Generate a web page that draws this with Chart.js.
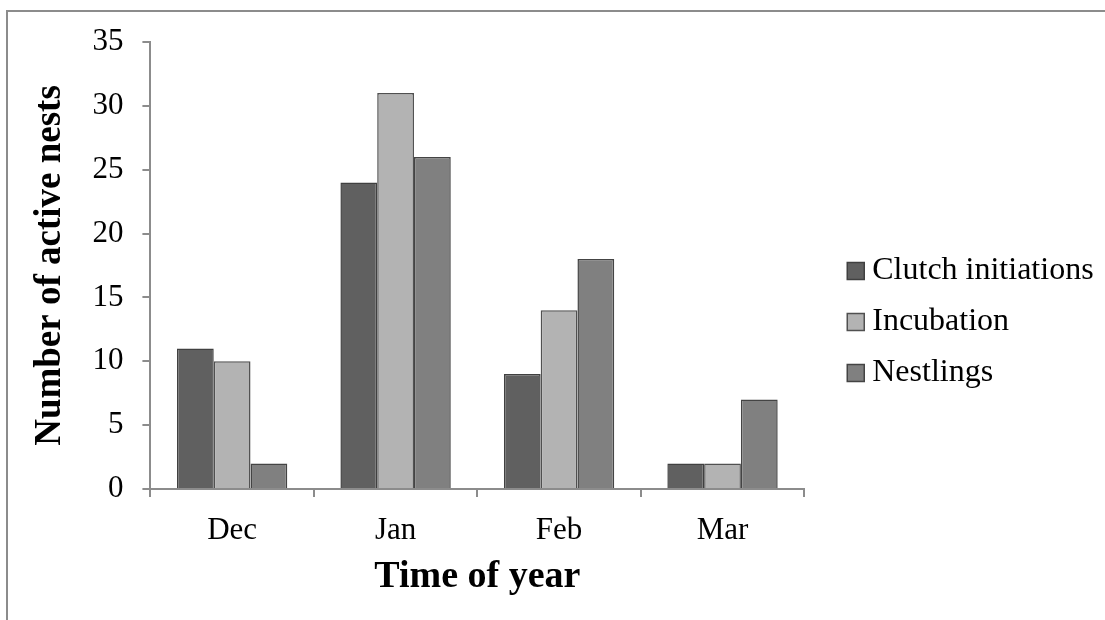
<!DOCTYPE html>
<html>
<head>
<meta charset="utf-8">
<script src="https://cdn.jsdelivr.net/npm/chart.js@4.4.0/dist/chart.umd.min.js"></script>
<style>
  html, body { margin: 0; padding: 0; background: #fff; }
  #wrap { position: relative; width: 1105px; height: 620px; overflow: hidden; }
  #frame { position: absolute; left: 6px; top: 10px; width: 1200px; height: 700px;
           border-left: 2px solid #8c8c8c; border-top: 2px solid #8c8c8c; pointer-events: none; }
  canvas { position: absolute; left: 0; top: 0; }
</style>
</head>
<body>
<div id="wrap">
  <canvas id="c" width="1105" height="620"></canvas>
  <div id="frame"></div>
</div>
<script>
const categories = ["Dec", "Jan", "Feb", "Mar"];
const clutchInitiations = [11, 24, 9, 2];
const incubation = [10, 31, 14, 2];
const nestlings = [2, 26, 18, 7];
const yTicks = [0, 5, 10, 15, 20, 25, 30, 35];
const seriesNames = ["Clutch initiations", "Incubation", "Nestlings"];

const serif = "'Liberation Serif', 'Times New Roman', serif";
const axisGray = "#8c8c8c";

// shifts only the drawn position of the legend (gap between plot and legend)
const legendShift = {
  id: 'legendShift',
  afterLayout(chart) {
    const lg = chart.legend;
    if (!lg) return;
    lg.left += 32; lg.right += 32;
    lg.top += 3; lg.bottom += 3;
  }
};

new Chart(document.getElementById('c'), {
  type: 'bar',
  data: {
    labels: categories,
    datasets: [
      { label: seriesNames[0], data: clutchInitiations, backgroundColor: '#606060', borderColor: '#404040', borderWidth: 1.5 },
      { label: seriesNames[1], data: incubation, backgroundColor: '#b3b3b3', borderColor: '#505050', borderWidth: 1.5 },
      { label: seriesNames[2], data: nestlings, backgroundColor: '#808080', borderColor: '#444444', borderWidth: 1.5 }
    ]
  },
  plugins: [legendShift],
  options: {
    responsive: false,
    animation: false,
    devicePixelRatio: 1,
    layout: { padding: { left: 28, right: 42, top: 42, bottom: 24 } },
    datasets: { bar: { categoryPercentage: 0.675, barPercentage: 1.0 } },
    plugins: {
      tooltip: { enabled: false },
      legend: {
        position: 'right',
        align: 'center',
        labels: {
          font: { family: serif, size: 32 },
          color: '#000',
          usePointStyle: true,
          pointStyle: 'rect',
          boxWidth: 1,
          boxHeight: 17,
          padding: 19
        }
      }
    },
    scales: {
      x: {
        offset: true,
        grid: { drawOnChartArea: false, offset: true, drawTicks: true, tickLength: 8, color: axisGray, lineWidth: 2 },
        border: { color: axisGray, width: 2 },
        ticks: { font: { family: serif, size: 31, lineHeight: 1 }, color: '#000', padding: 18 },
        title: { display: true, text: 'Time of year', font: { family: serif, size: 38, weight: 'bold', lineHeight: 1 }, color: '#000', padding: { top: -6, bottom: 0 } }
      },
      y: {
        min: 0, max: 35,
        afterBuildTicks: (axis) => { axis.ticks = yTicks.map(v => ({ value: v })); },
        grid: { drawOnChartArea: false, drawTicks: true, tickLength: 8, color: axisGray, lineWidth: 2 },
        border: { color: axisGray, width: 2 },
        ticks: { font: { family: serif, size: 31 }, color: '#000', padding: 19 },
        title: { display: true, text: 'Number of active nests', font: { family: serif, size: 37, weight: 'bold' }, color: '#000', padding: { top: 0, bottom: 1 } }
      }
    }
  }
});
</script>
</body>
</html>
